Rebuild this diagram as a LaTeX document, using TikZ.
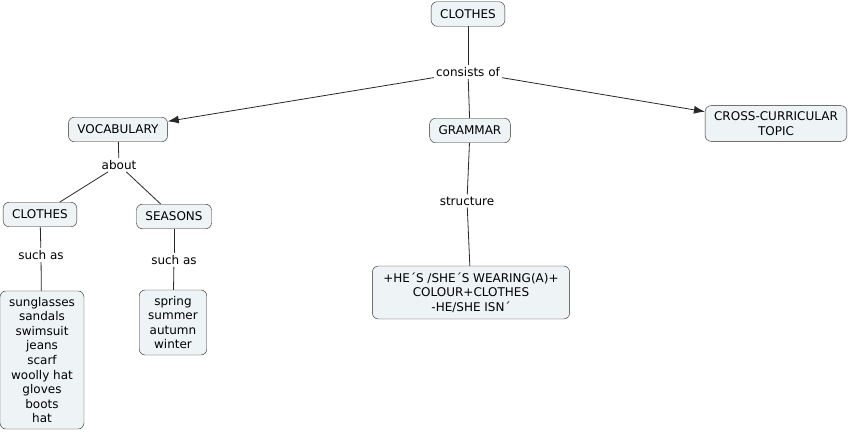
\documentclass[tikz,border=0pt]{standalone}
\usepackage{fontspec}
\setmainfont{DejaVu Sans}
\usetikzlibrary{arrows.meta}
\definecolor{boxfill}{RGB}{238,243,245}
\definecolor{linegray}{RGB}{40,40,40}
\newcommand{\mapfont}{\fontsize{12}{14.6}\selectfont}
\begin{document}
\begin{tikzpicture}[x=1pt, y=-1pt,
		>={Latex[length=11pt,width=8pt]},   %Pfeilspitzen
		concept/.style={draw=linegray, fill=boxfill, rounded corners=6pt, inner xsep=9pt, inner ysep=6pt, minimum height=24.5pt, align=center, font=\mapfont},
		linkword/.style={inner sep=2pt, font=\mapfont},
		link/.style={draw=linegray, line width=0.8pt}]
	% Bildbereich
	\useasboundingbox (0,0) rectangle (849,433);
	% Begriffe
	\node[concept] (clothes) at (468,14) {CLOTHES};
	\node[concept] (vocab) at (118,129.5) {VOCABULARY};
	\node[concept] (grammar) at (470,130.5) {GRAMMAR};
	\node[concept] (cross) at (776,123.5) {CROSS-CURRICULAR\\TOPIC};
	\node[concept] (clothesv) at (40,214.5) {CLOTHES};
	\node[concept] (seasons) at (174,216.5) {SEASONS};
	\node[concept] (items) at (42,360) {sunglasses\\sandals\\swimsuit\\jeans\\scarf\\woolly hat\\gloves\\boots\\hat};
	\node[concept] (months) at (173,322.5) {spring\\summer\\autumn\\winter};
	\node[concept, inner xsep=11pt, inner ysep=6.5pt] (struct) at (471,292.5) {+HE´S /SHE´S WEARING(A)+\\COLOUR+CLOTHES\\-HE/SHE ISN´};
	% Verbindungswoerter
	\node[linkword] (consists) at (468,72) {consists of};
	\node[linkword] (about) at (119,165) {about};
	\node[linkword] (suchasc) at (41,255) {such as};
	\node[linkword] (suchass) at (174,260) {such as};
	\node[linkword] (structure) at (467,201) {structure};
	% Verbindungen
	\draw[link] (clothes) -- (consists);
	\draw[link,->] (consists) -- (vocab);
	\draw[link] (consists) -- (grammar);
	\draw[link,->] (consists) -- (cross);
	\draw[link] (vocab) -- (about);
	\draw[link] (about) -- (clothesv);
	\draw[link] (about) -- (seasons);
	\draw[link] (clothesv) -- (suchasc);
	\draw[link] (suchasc) -- (items);
	\draw[link] (seasons) -- (suchass);
	\draw[link] (suchass) -- (months);
	\draw[link] (grammar) -- (structure);
	\draw[link] (structure) -- (struct);
\end{tikzpicture}
\end{document}
